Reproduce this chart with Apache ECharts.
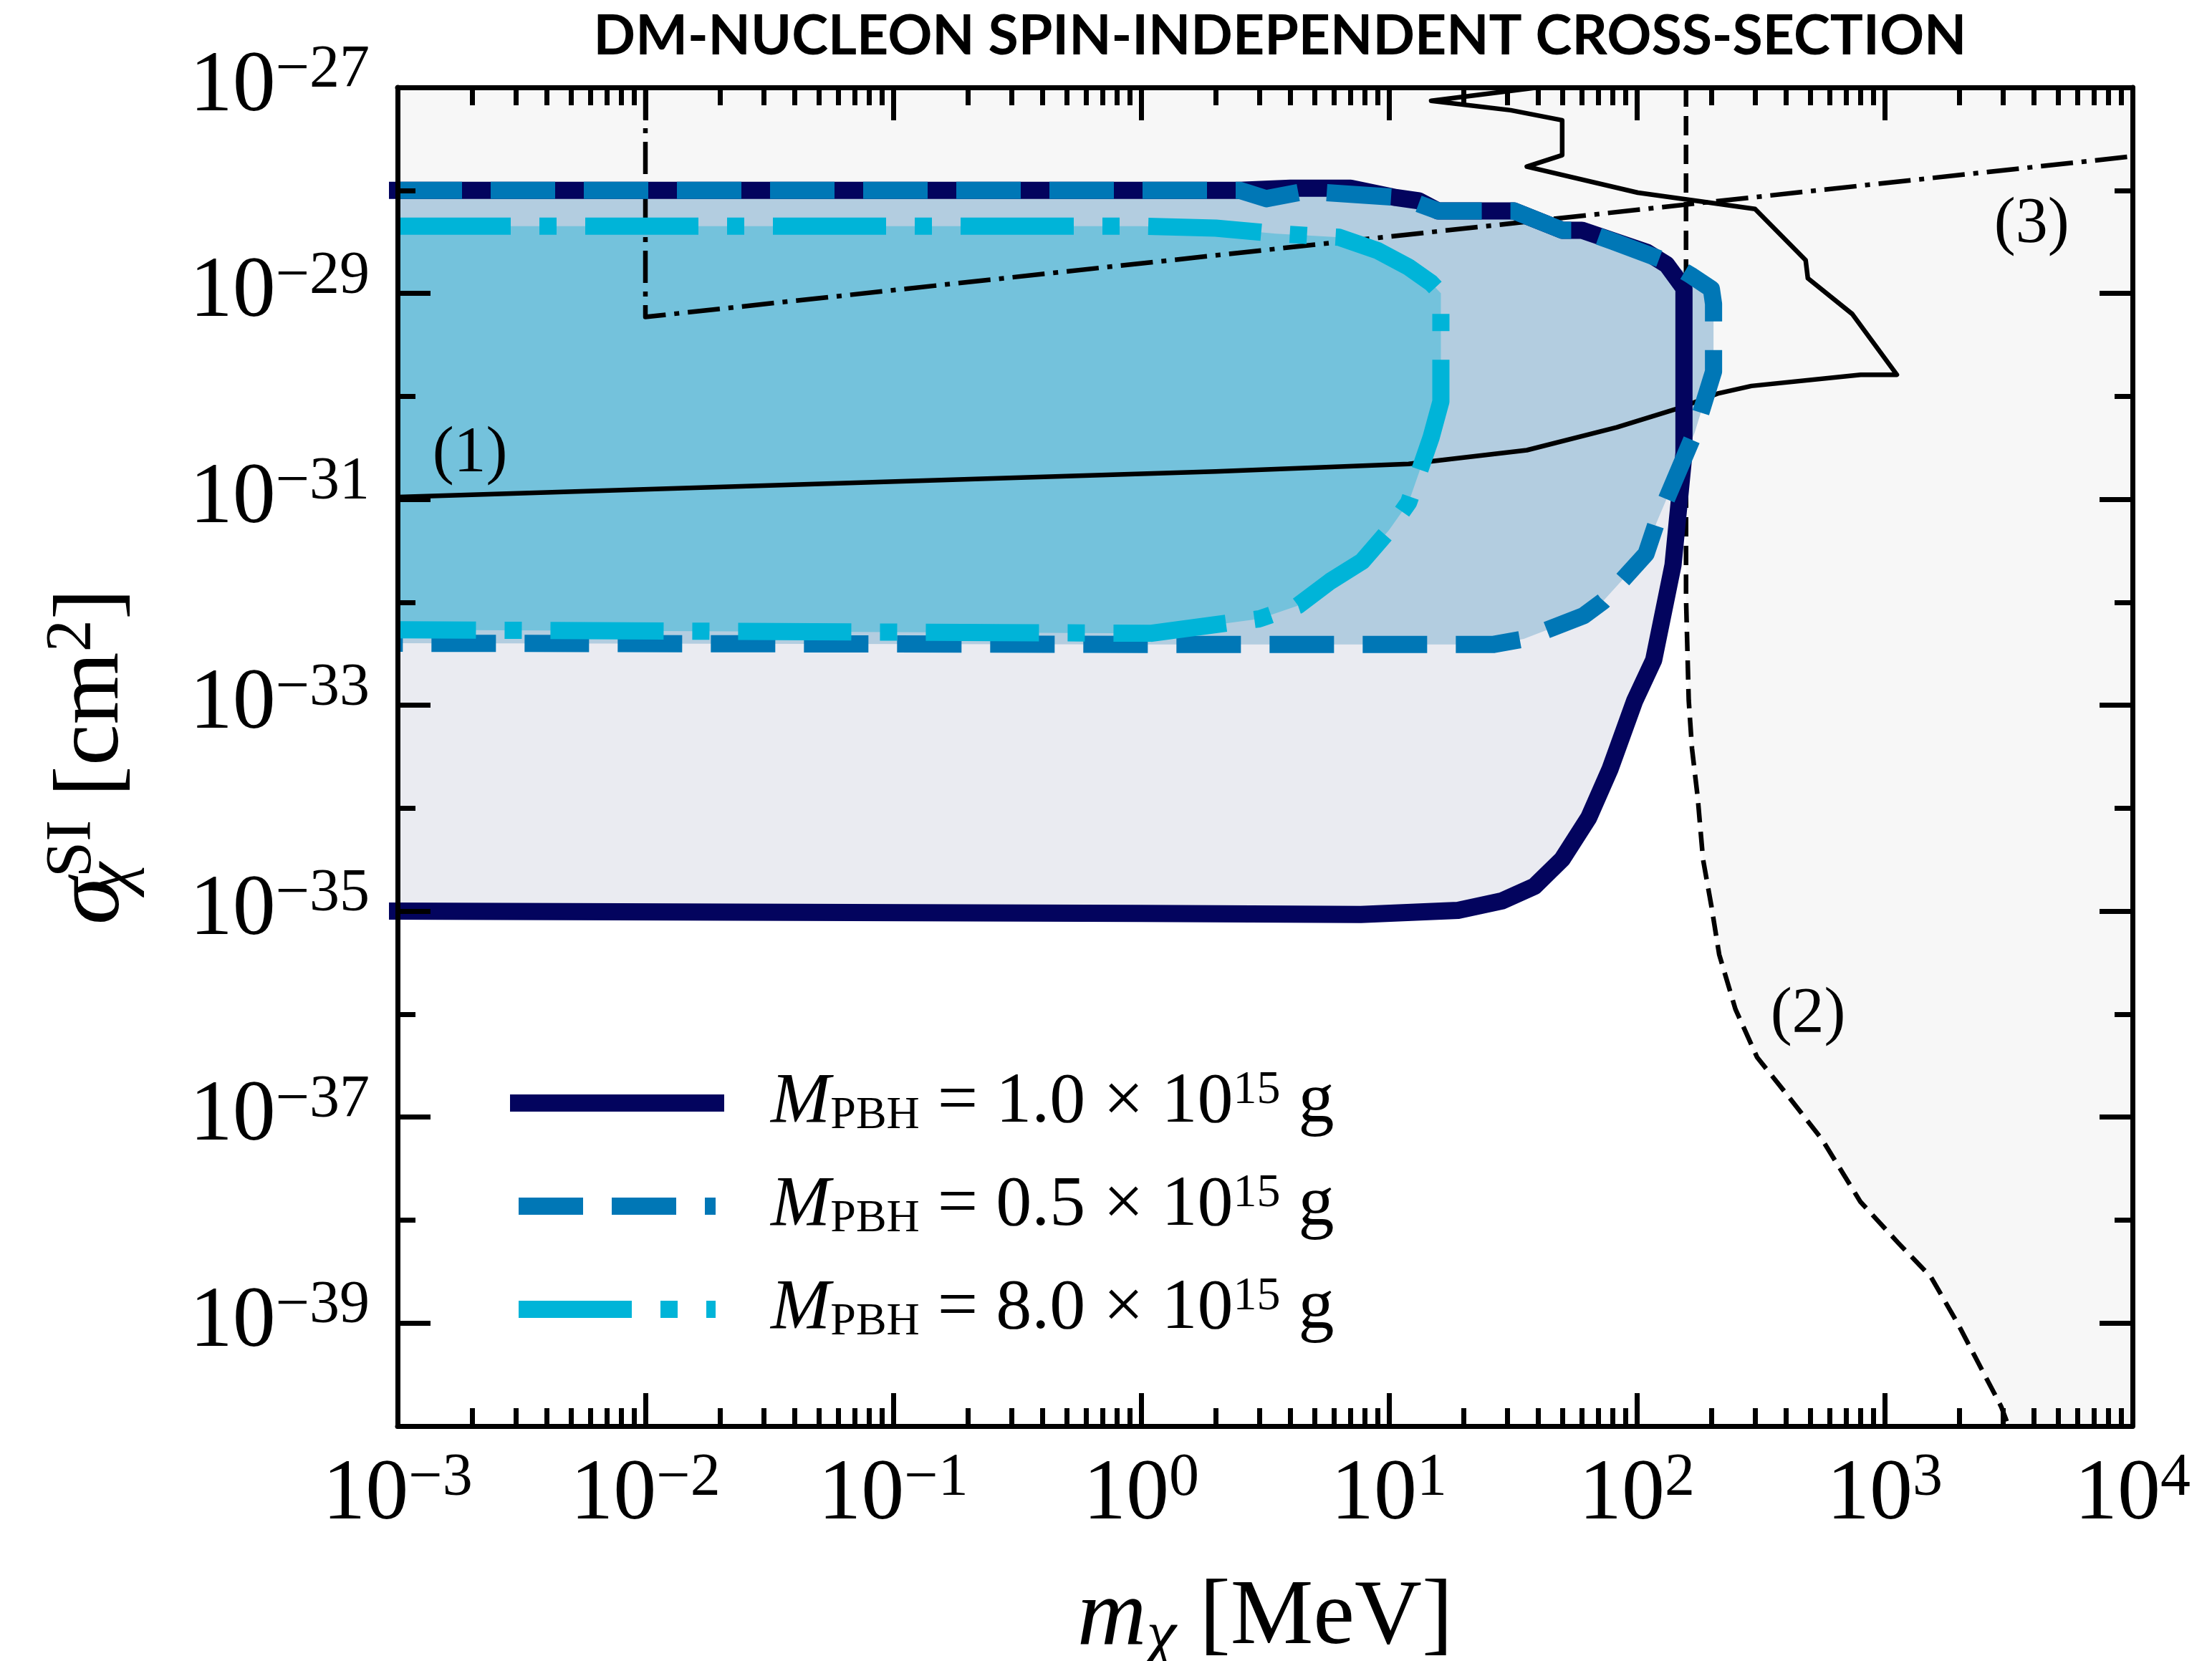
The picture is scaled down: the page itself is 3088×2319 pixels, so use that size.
<!DOCTYPE html>
<html>
<head>
<meta charset="utf-8">
<script src="https://cdn.jsdelivr.net/npm/echarts@6.0.0/dist/echarts.min.js"></script>
<style>
html, body { margin: 0; padding: 0; background: #fff; }
#chart { width: 3088px; height: 2319px; }
</style>
</head>
<body>
<div id="chart"></div>
<script>
// axis ranges, in decades (log10 of MeV and of cm^2)
const X_MIN = -3, X_MAX = 4, Y_MIN = -40, Y_MAX = -27;
const yLabelDecades = [-27, -29, -31, -33, -35, -37, -39];
const yMinorDecades = [-28, -30, -32, -34, -36, -38, -40];

// PBH exclusion contours, [m_chi (MeV), sigma (cm^2)]
const pbh10 = [
  [1e-3, 1.0e-28], [2.5, 1.0e-28], [4.0, 1.05e-28], [7.0, 1.05e-28], [10.7, 8.5e-29],
  [13.2, 7.9e-29], [15.8, 6.3e-29], [32, 6.3e-29], [50, 4.1e-29], [60, 4.1e-29],
  [110, 2.5e-29], [132, 1.9e-29], [155, 1.12e-29], [155, 2.8e-31], [140, 2.3e-32],
  [117, 2.75e-33], [98, 1.1e-33], [78, 2.4e-34], [64, 8.1e-35], [50, 3.2e-35],
  [38.6, 1.74e-35], [28.6, 1.26e-35], [19, 1.02e-35], [7.7, 9.3e-36], [1.0, 9.5e-36],
  [1e-3, 1.0e-35]
];
const pbh05 = [
  [1e-3, 1.0e-28], [2.5, 1.0e-28], [3.2, 8.3e-29], [4.6, 9.8e-29], [11.3, 8.5e-29],
  [15.8, 6.3e-29], [32, 6.3e-29], [50, 4.1e-29], [60, 4.1e-29], [80, 3.2e-29],
  [135, 2.0e-29], [165, 1.5e-29], [200, 1.1e-29], [204, 7.9e-30], [204, 1.74e-30],
  [171, 4.4e-31], [120, 5.9e-32], [109, 2.95e-32], [73, 1.02e-32], [61, 7.4e-33],
  [35, 4.4e-33], [26.5, 3.9e-33], [1.0, 3.9e-33], [1e-3, 4.0e-33]
];
const pbh80 = [
  [1e-3, 4.5e-29], [1.0, 4.5e-29], [2.0, 4.3e-29], [3.5, 3.8e-29], [6.3, 3.5e-29],
  [9.0, 2.6e-29], [12, 1.8e-29], [14.8, 1.26e-29], [16.2, 1.0e-29], [16.2, 8.9e-31],
  [14.8, 4.0e-31], [13.2, 1.8e-31], [12, 9.3e-32], [10, 5.0e-32], [7.8, 2.5e-32],
  [5.8, 1.6e-32], [4.3, 9.3e-33], [3.0, 6.9e-33], [1.1, 5.0e-33], [1e-3, 5.4e-33]
];

// existing bounds (1), (2), (3)
const bound1 = [
  [40, 1.0e-27], [14.8, 7.4e-28], [31, 6.0e-28], [50, 4.8e-28], [50, 2.2e-28],
  [36, 1.7e-28], [101, 9.5e-29], [300, 6.6e-29], [480, 2.1e-29], [490, 1.4e-29],
  [740, 6.3e-30], [1120, 1.62e-30], [800, 1.62e-30], [290, 1.26e-30], [214, 1.07e-30],
  [151, 7.8e-31], [83, 5.0e-31], [36, 3.0e-31], [12, 2.2e-31], [2.0, 1.86e-31],
  [1e-3, 1.05e-31]
];
const bound2 = [
  [158, 1.0e-27], [158, 1.1e-32], [162, 1.12e-33], [167, 3.8e-34], [176, 1.29e-34],
  [185, 3.2e-35], [200, 1.12e-35], [215, 3.8e-36], [250, 1.12e-36], [306, 3.8e-37],
  [394, 1.78e-37], [561, 6.0e-38], [798, 1.51e-38], [1135, 6.0e-39], [1538, 2.8e-39],
  [1977, 9.8e-40], [2951, 1.55e-40], [3160, 1.0e-40]
];
const bound3 = [[0.01, 1.0e-27], [0.01, 5.9e-30], [1e4, 2.14e-28]];

const notes = [[1.96e-3, 2.75e-31, '(1)'], [491, 9.8e-37, '(2)'], [3917, 4.6e-29, '(3)']];
const pbhMasses = ['1.0', '0.5', '8.0'];

const SERIF = '"Liberation Serif", "DejaVu Serif", serif';
const NAVY = '#03045e', BLUE = '#0077b6', CYAN = '#00b4d8', GREY = '#f7f7f7';

const toLog = pts => pts.map(p => [Math.log10(p[0]), Math.log10(p[1])]);
const supText = e => (e < 0 ? '\u2212' + (-e) : String(e));

const minorX = [];
for (let d = X_MIN; d < X_MAX; d++) {
  for (let k = 2; k <= 9; k++) minorX.push(d + Math.log10(k));
}

const tickRich = {
  b: { fontFamily: SERIF, fontSize: 120, lineHeight: 130, color: '#000' },
  s: { fontFamily: SERIF, fontSize: 84, lineHeight: 70, verticalAlign: 'top', color: '#000' }
};
const tickFmt = v => '{b|10}{s|' + supText(Math.round(v)) + '}';

const nameRich = {
  i: { fontFamily: SERIF, fontStyle: 'italic', fontSize: 134, lineHeight: 146, color: '#000' },
  c: { fontFamily: SERIF, fontStyle: 'italic', fontSize: 94, lineHeight: 70, verticalAlign: 'bottom', color: '#000' },
  cz: { fontFamily: SERIF, fontStyle: 'italic', fontSize: 94, lineHeight: 70, verticalAlign: 'bottom', width: 0, color: '#000' },
  u: { fontFamily: SERIF, fontSize: 90, lineHeight: 72, verticalAlign: 'top', color: '#000' },
  r: { fontFamily: SERIF, fontSize: 130, lineHeight: 146, color: '#000' }
};

const tickLine = { color: '#000', width: 7 };
const frameLine = { show: true, onZero: false, lineStyle: { color: '#000', width: 7 } };
const noLine = { show: false, onZero: false };

function xAxisFor(position, major, withLabel) {
  const ax = {
    type: 'value', position: position, min: X_MIN, max: X_MAX, interval: 1, z: 10,
    axisLine: major ? frameLine : noLine,
    axisTick: major ? { inside: true, length: 46, lineStyle: tickLine }
                    : { inside: true, length: 25, lineStyle: tickLine, customValues: minorX },
    axisLabel: withLabel ? { margin: 32, formatter: tickFmt, rich: tickRich } : { show: false },
    splitLine: { show: false }
  };
  if (withLabel) {
    ax.name = '{i|m}{c|\u03c7}{r| [MeV]}';
    ax.nameLocation = 'middle';
    ax.nameGap = 196;
    ax.nameTextStyle = { rich: nameRich };
  }
  return ax;
}

function yAxisFor(position, major, withLabel) {
  const ax = {
    type: 'value', position: position, min: Y_MIN, max: Y_MAX, interval: 1, z: 10,
    axisLine: major ? frameLine : noLine,
    axisTick: { inside: true, length: major ? 46 : 25, lineStyle: tickLine,
                customValues: major ? yLabelDecades : yMinorDecades },
    axisLabel: withLabel ? { margin: 39, formatter: tickFmt, rich: tickRich, customValues: yLabelDecades }
                         : { show: false },
    splitLine: { show: false }
  };
  if (withLabel) {
    ax.name = '{i|\u03c3}{cz|\u03c7}{u|SI}{r| [cm}{u|2}{r|]}';
    ax.nameLocation = 'middle';
    ax.nameRotate = 90;
    ax.nameGap = 352;
    ax.nameTextStyle = { rich: nameRich };
  }
  return ax;
}

function polygon(points, color, z) {
  return {
    type: 'custom', xAxisIndex: 0, yAxisIndex: 0, z: z, silent: true,
    data: [points[0]],
    renderItem: function (params, api) {
      return {
        type: 'polygon',
        shape: { points: points.map(p => api.coord(p)) },
        style: { fill: color }
      };
    }
  };
}

function curve(pts, color, width, type, z, name, cap) {
  return {
    type: 'line', name: name, xAxisIndex: 0, yAxisIndex: 0, z: z, silent: true,
    data: toLog(pts), symbol: 'none',
    lineStyle: { color: color, width: width, type: type, cap: cap || 'butt', join: 'round' }
  };
}

const series = [
  polygon(toLog(bound1).concat([[X_MIN, Y_MAX]]), GREY, 1),
  polygon(toLog(bound2).concat([[X_MAX, Y_MIN], [X_MAX, Y_MAX]]), GREY, 1),
  polygon(toLog(bound3).concat([[X_MAX, Y_MAX]]), GREY, 1),
  polygon(toLog(pbh10), '#eaebf1', 2),
  polygon(toLog(pbh05), '#b3cde0', 2),
  polygon(toLog(pbh80), '#74c2dc', 2),
  curve(bound1, '#000', 6.5, 'solid', 3),
  curve(bound2, '#000', 6.5, [27, 13], 3),
  curve(bound3, '#000', 6.5, [45, 12, 7, 12], 3),
  curve(pbh10, NAVY, 24, 'solid', 4, pbhMasses[0], 'square'),
  curve(pbh05, BLUE, 24, [90, 40], 4, pbhMasses[1]),
  curve(pbh80, CYAN, 24, [158, 40, 24, 40], 4, pbhMasses[2]),
  {
    type: 'scatter', xAxisIndex: 0, yAxisIndex: 0, z: 5, silent: true,
    symbolSize: 1, itemStyle: { color: 'transparent', opacity: 1 },
    data: notes.map(n => ({ value: [Math.log10(n[0]), Math.log10(n[1])], name: n[2] })),
    label: { show: true, position: 'inside', formatter: '{b}', fontFamily: SERIF, fontSize: 90, color: '#000' }
  }
];

const chart = echarts.init(document.getElementById('chart'), null, { renderer: 'canvas' });
chart.setOption({
  animation: false,
  backgroundColor: '#fff',
  title: {
    text: 'DM-NUCLEON SPIN-INDEPENDENT CROSS-SECTION',
    left: 1782, top: 8, textAlign: 'center',
    textStyle: { fontFamily: 'Lato', fontWeight: 'bold', fontSize: 77, color: '#000' }
  },
  grid: { left: 555, right: 111, top: 122, bottom: 328, containLabel: false, outerBoundsMode: 'none' },
  legend: {
    data: pbhMasses, orient: 'vertical', left: 712, top: 1490, padding: 0,
    itemWidth: 275, itemHeight: 24, itemGap: 44,
    itemStyle: { opacity: 0 },
    lineStyle: { width: 24 },
    formatter: n => '{m|M}{p|PBH}{t| = ' + n + ' \u00d7 10}{e|15}{t| g}',
    textStyle: {
      color: '#000',
      rich: {
        m: { fontFamily: SERIF, fontStyle: 'italic', fontSize: 100, lineHeight: 100, padding: [0, 0, 0, 72], color: '#000' },
        p: { fontFamily: SERIF, fontSize: 64, lineHeight: 56, verticalAlign: 'bottom', color: '#000' },
        t: { fontFamily: SERIF, fontSize: 100, lineHeight: 100, color: '#000' },
        e: { fontFamily: SERIF, fontSize: 66, lineHeight: 52, verticalAlign: 'top', color: '#000' }
      }
    }
  },
  xAxis: [
    xAxisFor('bottom', true, true),
    xAxisFor('bottom', false, false),
    xAxisFor('top', true, false),
    xAxisFor('top', false, false)
  ],
  yAxis: [
    yAxisFor('left', true, true),
    yAxisFor('left', false, false),
    yAxisFor('right', true, false),
    yAxisFor('right', false, false)
  ],
  series: series
});
</script>
</body>
</html>
